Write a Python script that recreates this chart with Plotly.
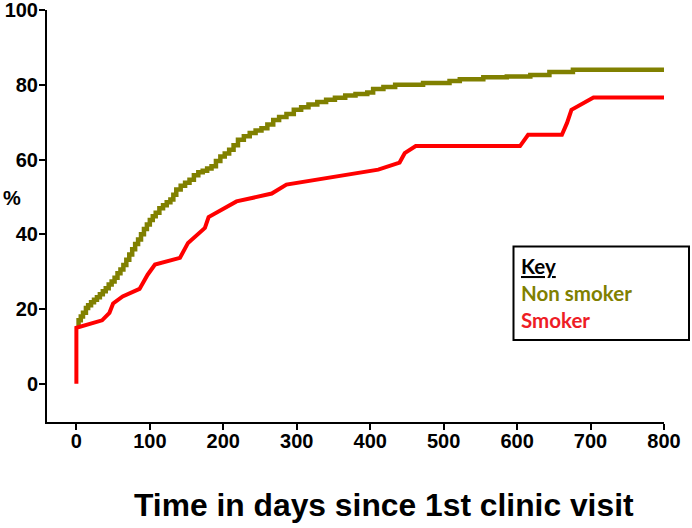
import plotly.graph_objects as go

# ---- data ----
nonsmoker_days = [0, 3, 6, 9, 13, 16, 20, 24, 28, 32, 36, 40, 44, 48, 52, 56, 60, 64, 68,
                  72, 76, 80, 84, 88, 92, 96, 100, 104, 108, 113, 118, 123, 128, 132, 136,
                  142, 148, 154, 160, 166, 172, 178, 184, 190, 196, 202, 208, 214, 220, 228,
                  236, 244, 252, 260, 268, 276, 286, 296, 306, 316, 328, 340, 352, 366, 380,
                  396, 404, 418, 434, 472, 508, 522, 554, 586, 618, 644, 676, 800]
nonsmoker_pct = [15.9, 17.0, 18.0, 19.0, 20.3, 21.0, 21.8, 22.5, 23.2, 24.0, 24.8, 25.6, 26.6,
                 27.4, 28.4, 29.6, 30.6, 31.8, 33.2, 34.6, 36.0, 37.4, 38.6, 40.0, 41.4, 42.6,
                 43.8, 44.8, 45.8, 47.0, 47.8, 48.6, 49.3, 50.6, 52.0, 53.0, 53.8, 54.6, 55.8,
                 56.6, 57.0, 57.6, 58.2, 59.6, 60.8, 61.6, 62.6, 63.8, 65.3, 66.2, 67.1, 67.8,
                 68.4, 69.4, 70.6, 71.4, 72.2, 73.3, 74.0, 74.7, 75.4, 76.0, 76.5, 77.1, 77.5,
                 77.9, 78.9, 79.4, 80.0, 80.5, 81.0, 81.5, 82.0, 82.2, 82.6, 83.4, 84.0, 84.0]

smoker_days = [0, 0, 35, 45, 50, 63, 86, 97, 107, 141, 152, 175, 180, 218, 266, 286, 411,
               440, 447, 462, 604, 615, 661, 668, 674, 704, 800]
smoker_pct = [0, 15.0, 17.0, 19.0, 21.5, 23.4, 25.4, 29.2, 31.9, 33.7, 37.7, 41.7, 44.6,
              48.8, 50.9, 53.3, 57.3, 59.2, 61.7, 63.6, 63.6, 66.6, 66.6, 69.8, 73.3, 76.6, 76.6]

x_ticks = [0, 100, 200, 300, 400, 500, 600, 700, 800]
y_ticks = [0, 20, 40, 60, 80, 100]

x_title = "Time in days since 1st clinic visit"
y_title = "%"
key_title = "Key"
names = ["Non smoker", "Smoker"]

OLIVE = "#808000"
RED = "#FF0000"

W, H = 692, 528
ML, MR, MT, MB = 47, 28, 10, 106
PW, PH = W - ML - MR, H - MT - MB


def px(xp):
    return (xp - ML) / PW


def py(yp):
    return (H - MB - yp) / PH


fig = go.Figure()
fig.add_trace(go.Scatter(x=nonsmoker_days, y=nonsmoker_pct, mode="lines", name=names[0],
                         line=dict(color=OLIVE, width=4.5, shape="hv")))
fig.add_trace(go.Scatter(x=smoker_days, y=smoker_pct, mode="lines", name=names[1],
                         line=dict(color=RED, width=4)))

axis_font = dict(family="Liberation Sans, Arial, sans-serif", size=20, color="black")

common = dict(showgrid=False, zeroline=False, showline=True, linecolor="black", linewidth=2,
              ticks="outside", ticklen=6, tickwidth=2, tickcolor="black", tickfont=axis_font,
              automargin=False, ticklabeloverflow="allow")

fig.update_layout(
    width=W, height=H,
    margin=dict(l=ML, r=MR, t=MT, b=MB, pad=0, autoexpand=False),
    paper_bgcolor="white", plot_bgcolor="white",
    showlegend=False,
    font=dict(family="Liberation Sans, Arial, sans-serif"),
    xaxis=dict(range=[-40, 800], tickvals=x_ticks, ticktext=[f"<b>{v}</b>" for v in x_ticks],
               ticklabelstandoff=-6, **common),
    yaxis=dict(range=[-10.2, 100], tickvals=y_ticks, ticktext=[f"<b>{v}</b>" for v in y_ticks],
               ticklabelstandoff=-3, **common),
)

# axis titles
fig.add_annotation(text=f"<b>{x_title}</b>", xref="paper", yref="paper",
                   x=px(383.7), y=py(505), xanchor="center", yanchor="middle", showarrow=False,
                   font=dict(family="Liberation Sans, Arial, sans-serif", size=31.8, color="black"))
fig.add_annotation(text=f"<b>{y_title}</b>", xref="paper", yref="paper",
                   x=px(11.5), y=py(198), xanchor="center", yanchor="middle", showarrow=False,
                   font=dict(family="Liberation Sans, Arial, sans-serif", size=20, color="black"))

# key box
fig.add_shape(type="rect", xref="paper", yref="paper",
              x0=px(513.5), x1=px(689), y0=py(340), y1=py(246.5),
              line=dict(color="black", width=2), fillcolor="white", layer="above")
key_font = "Lato, Carlito, Calibri, sans-serif"
fig.add_annotation(text=f"<b><u>{key_title}</u></b>", xref="paper", yref="paper",
                   x=px(519), y=py(266), xanchor="left", yanchor="middle", showarrow=False,
                   font=dict(family=key_font, size=20.5, color="black"))
fig.add_annotation(text=f"<b>{names[0]}</b>", xref="paper", yref="paper",
                   x=px(519), y=py(293), xanchor="left", yanchor="middle", showarrow=False,
                   font=dict(family=key_font, size=20.5, color=OLIVE))
fig.add_annotation(text=f"<b>{names[1]}</b>", xref="paper", yref="paper",
                   x=px(519), y=py(320), xanchor="left", yanchor="middle", showarrow=False,
                   font=dict(family=key_font, size=20.5, color="#EE1C25"))

fig.write_html("out.html", config={"displayModeBar": False},
               post_script="document.body.style.margin='0px';document.body.style.overflow='hidden';")
